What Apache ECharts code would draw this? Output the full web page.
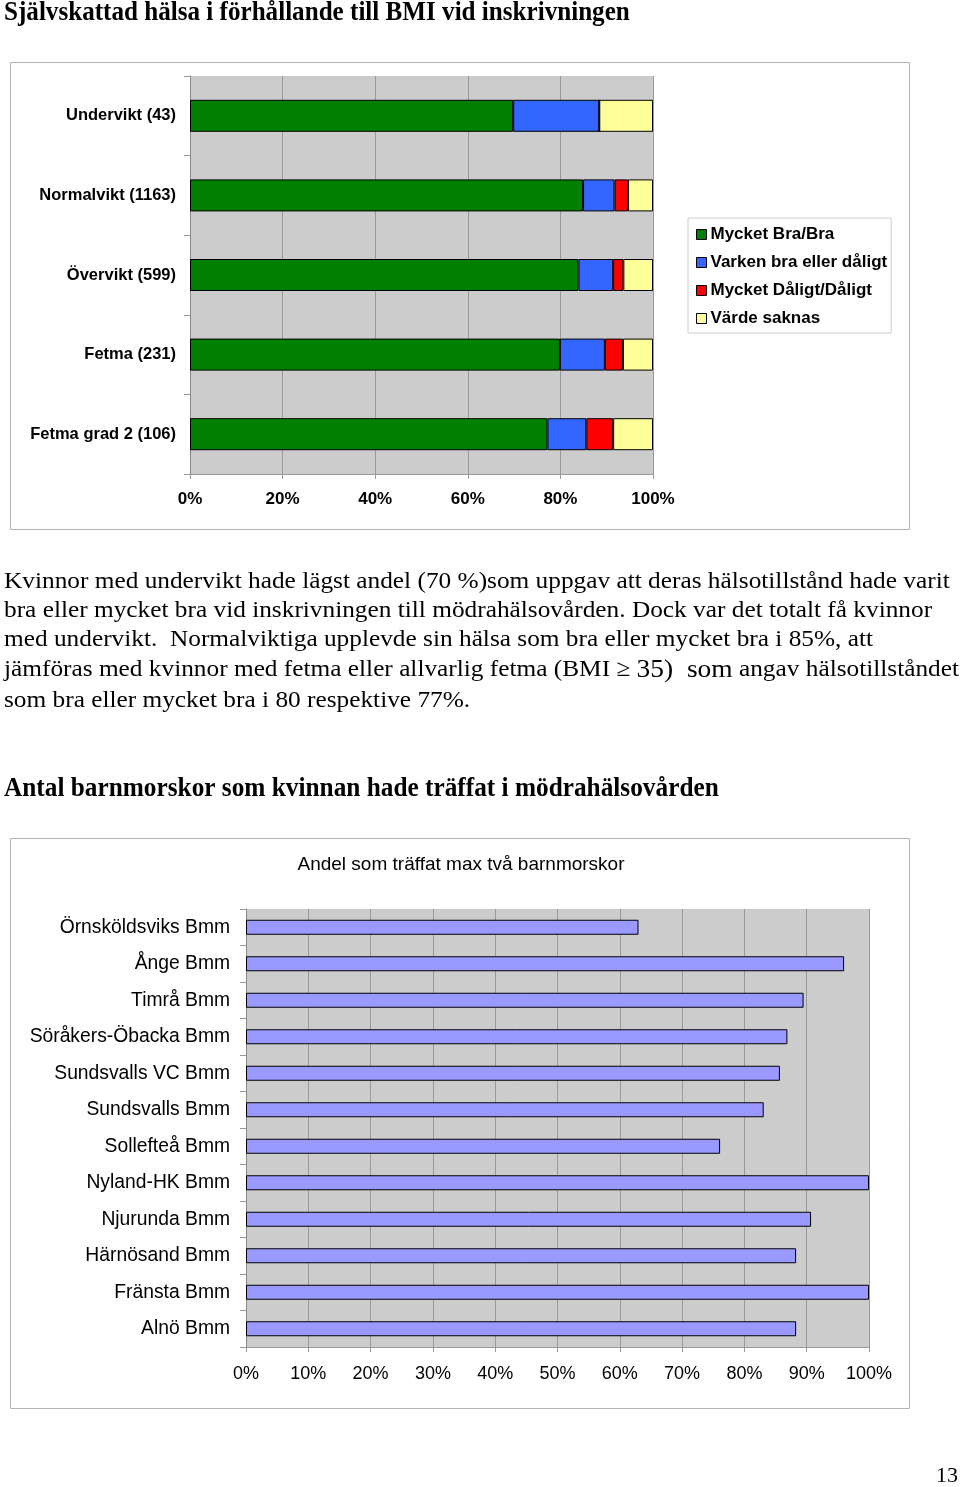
<!DOCTYPE html>
<html>
<head>
<meta charset="utf-8">
<script src="https://cdn.jsdelivr.net/npm/echarts@6/dist/echarts.min.js"></script>
<style>
html,body{margin:0;padding:0;background:#fff;}
#c{width:960px;height:1487px;}
</style>
</head>
<body>
<div id="c"></div>
<script>
// ---- Data: chart 1 (self-rated health by BMI, percent) ----
const bmiCategories = ['Undervikt (43)', 'Normalvikt (1163)', 'Övervikt (599)', 'Fetma (231)', 'Fetma grad 2 (106)'];
const healthSeriesNames = ['Mycket Bra/Bra', 'Varken bra eller dåligt', 'Mycket Dåligt/Dåligt', 'Värde saknas'];
const goodValues    = [69.8, 84.9, 83.9, 79.9, 77.2];
const neutralValues = [18.6, 6.8, 7.5, 9.7, 8.4];
const badValues     = [0, 2.9, 2.2, 3.9, 5.8];
const missingValues = [11.6, 5.4, 6.4, 6.5, 8.6];
const pctTicks1 = [0, 20, 40, 60, 80, 100];

// ---- Data: chart 2 (share who met max two midwives, percent) ----
const clinics = ['Örnsköldsviks Bmm', 'Ånge Bmm', 'Timrå Bmm', 'Söråkers-Öbacka Bmm', 'Sundsvalls VC Bmm',
  'Sundsvalls Bmm', 'Sollefteå Bmm', 'Nyland-HK Bmm', 'Njurunda Bmm', 'Härnösand Bmm', 'Fränsta Bmm', 'Alnö Bmm'];
const maxTwoShare = [63.0, 96.0, 89.5, 86.9, 85.7, 83.1, 76.1, 100, 90.7, 88.3, 100, 88.3];
const pctTicks2 = [0, 10, 20, 30, 40, 50, 60, 70, 80, 90, 100];

// ---- Texts ----
const heading1 = 'Självskattad hälsa i förhållande till BMI vid inskrivningen';
const heading2 = 'Antal barnmorskor som kvinnan hade träffat i mödrahälsovården';
const chart2Title = 'Andel som träffat max två barnmorskor';
const paragraphLines = [
  'Kvinnor med undervikt hade lägst andel (70 %)som uppgav att deras hälsotillstånd hade varit',
  'bra eller mycket bra vid inskrivningen till mödrahälsovården. Dock var det totalt få kvinnor',
  'med undervikt.  Normalviktiga upplevde sin hälsa som bra eller mycket bra i 85%, att',
  null,
  'som bra eller mycket bra i 80 respektive 77%.'
];
const line4a = 'jämföras med kvinnor med fetma eller allvarlig fetma (BMI ≥ ';
const line4b = '35)  som';
const line4c = ' angav hälsotillståndet';
const pageNumber = '13';

const colors1 = ['#008000', '#3366ff', '#ff0000', '#ffff99'];
const values1 = [goodValues, neutralValues, badValues, missingValues];

const serif = '"Liberation Serif", "DejaVu Serif", serif';
const sans = '"Liberation Sans", Arial, sans-serif';

const chart = echarts.init(document.getElementById('c'), null, {renderer: 'canvas'});

const series1 = healthSeriesNames.map((n, i) => ({
  name: n, type: 'bar', stack: 'h', xAxisIndex: 0, yAxisIndex: 0,
  data: values1[i], barWidth: 32,
  itemStyle: {color: colors1[i], borderColor: '#000', borderWidth: 1},
  emphasis: {disabled: true}
}));

const series2 = [{
  name: chart2Title, type: 'bar', xAxisIndex: 1, yAxisIndex: 1,
  data: maxTwoShare, barWidth: 15,
  itemStyle: {color: '#9999ff', borderColor: '#000', borderWidth: 1},
  emphasis: {disabled: true}
}];

const graphics = [];
// boxes
graphics.push({type: 'rect', shape: {x: 10.5, y: 62.5, width: 899, height: 467}, style: {fill: 'none', stroke: '#b4b4b4', lineWidth: 1}, silent: true, z: -1});
graphics.push({type: 'rect', shape: {x: 10.5, y: 838.5, width: 899, height: 570}, style: {fill: 'none', stroke: '#b4b4b4', lineWidth: 1}, silent: true, z: -1});
// headings
graphics.push({type: 'text', x: 4, y: 13, scaleX: 0.93, style: {text: heading1, font: 'bold 27px ' + serif, fill: '#000', verticalAlign: 'middle'}});
graphics.push({type: 'text', x: 4, y: 789, scaleX: 0.937, style: {text: heading2, font: 'bold 27px ' + serif, fill: '#000', verticalAlign: 'middle'}});
// paragraph
const lineY = [582, 611, 640, 670, 701];
paragraphLines.forEach((t, i) => {
  if (t === null) {
    graphics.push({type: 'text', x: 4, y: lineY[i], scaleX: 1.055, style: {
      text: '{a|' + line4a + '}{b|' + line4b + '}{a|' + line4c + '}',
      verticalAlign: 'middle',
      rich: {a: {font: '24px ' + serif, fill: '#000'}, b: {font: '26px ' + serif, fill: '#000'}}
    }});
  } else {
    graphics.push({type: 'text', x: 4, y: lineY[i], scaleX: 1.055, style: {text: t, font: '24px ' + serif, fill: '#000', verticalAlign: 'middle'}});
  }
});
// chart 2 title
graphics.push({type: 'text', x: 461, y: 865, style: {text: chart2Title, font: '19px ' + sans, fill: '#000', align: 'center', verticalAlign: 'middle'}});
// page number
graphics.push({type: 'text', x: 958, y: 1476, style: {text: pageNumber, font: '22px ' + serif, fill: '#000', align: 'right', verticalAlign: 'middle'}});

const option = {
  animation: false,
  backgroundColor: '#fff',
  grid: [
    {left: 190, top: 76, width: 463, height: 398, show: true, backgroundColor: '#cccccc', borderWidth: 0, containLabel: false},
    {left: 246, top: 909, width: 623, height: 438, show: true, backgroundColor: '#cccccc', borderWidth: 0, containLabel: false}
  ],
  xAxis: [
    {type: 'value', gridIndex: 0, min: pctTicks1[0], max: pctTicks1[pctTicks1.length - 1], interval: 20,
      axisLine: {show: true, lineStyle: {color: '#999'}},
      axisTick: {show: true, length: 5, lineStyle: {color: '#999'}},
      splitLine: {show: true, lineStyle: {color: '#999', width: 1}},
      axisLabel: {formatter: '{value}%', margin: 17, color: '#000', fontWeight: 'bold', fontSize: 17, fontFamily: sans}},
    {type: 'value', gridIndex: 1, min: pctTicks2[0], max: pctTicks2[pctTicks2.length - 1], interval: 10,
      axisLine: {show: true, lineStyle: {color: '#999'}},
      axisTick: {show: true, length: 5, lineStyle: {color: '#999'}},
      splitLine: {show: true, lineStyle: {color: '#999', width: 1}},
      axisLabel: {formatter: '{value}%', margin: 18, color: '#000', fontSize: 18, fontFamily: sans}}
  ],
  yAxis: [
    {type: 'category', gridIndex: 0, data: bmiCategories, inverse: true,
      axisLine: {show: true, lineStyle: {color: '#888'}},
      axisTick: {show: true, length: 6, lineStyle: {color: '#999'}},
      axisLabel: {color: '#000', fontSize: 16.5, fontWeight: 'bold', fontFamily: sans, margin: 14}},
    {type: 'category', gridIndex: 1, data: clinics, inverse: true,
      axisLine: {show: true, lineStyle: {color: '#888'}},
      axisTick: {show: true, length: 6, lineStyle: {color: '#999'}},
      axisLabel: {color: '#000', fontSize: 19.3, fontFamily: sans, margin: 16}}
  ],
  legend: {
    data: healthSeriesNames, orient: 'vertical', left: 688, top: 218,
    padding: [8, 4, 6, 8], itemGap: 11, itemWidth: 10, itemHeight: 10,
    icon: 'rect', borderColor: '#ccc', borderWidth: 1, backgroundColor: '#fff',
    textStyle: {color: '#000', fontSize: 17, fontWeight: 'bold', fontFamily: sans, padding: [0, 0, 0, -1]},
    itemStyle: {borderColor: '#000', borderWidth: 1},
    selectedMode: false
  },
  tooltip: {show: false},
  graphic: graphics,
  series: series1.concat(series2)
};
chart.setOption(option);
</script>
</body>
</html>
